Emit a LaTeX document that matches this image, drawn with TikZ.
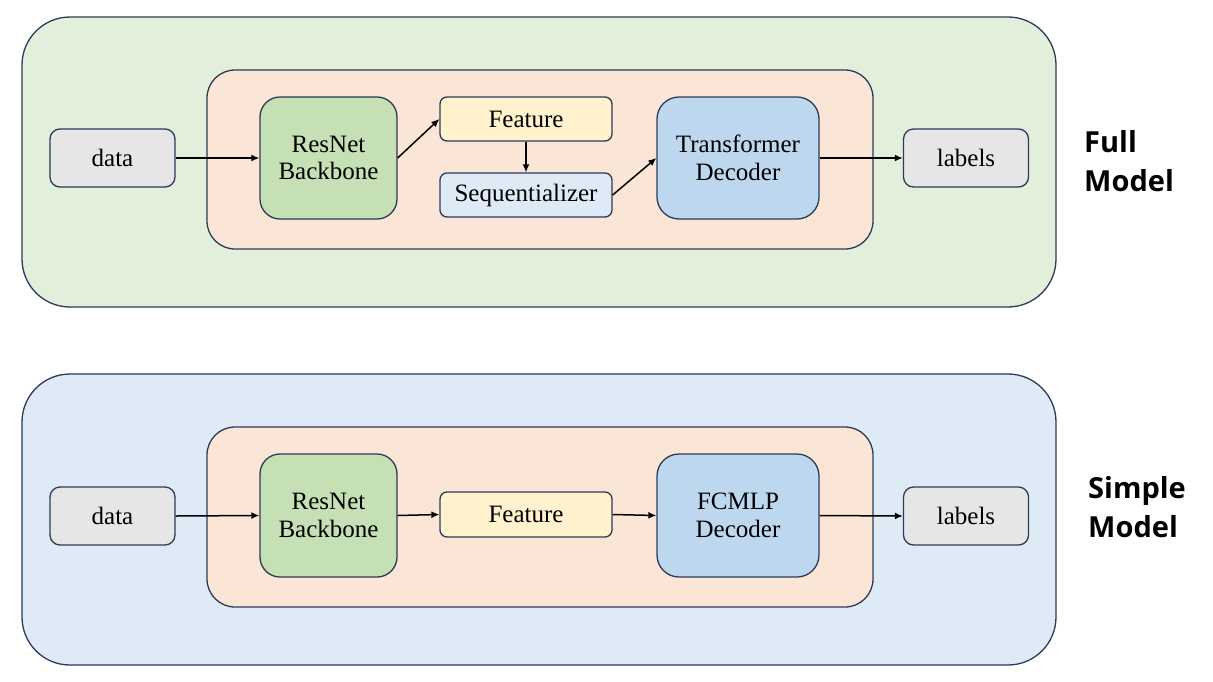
\documentclass[tikz,border=0pt]{standalone}
\usepackage{fontspec}
\setmainfont{Liberation Serif}
\newfontfamily\labelfont{Open Sans}
\usetikzlibrary{arrows.meta}
\definecolor{edgeblue}{HTML}{2B3B58}
\definecolor{outergreen}{HTML}{E2EFDA}
\definecolor{outerblue}{HTML}{DEEBF7}
\definecolor{peach}{HTML}{FBE5D6}
\definecolor{resgreen}{HTML}{C5E0B4}
\definecolor{featyellow}{HTML}{FFF2CC}
\definecolor{seqblue}{HTML}{DEEBF7}
\definecolor{decblue}{HTML}{BDD7EE}
\definecolor{iogray}{HTML}{E6E6E6}
\tikzset{
  boxbase/.style={draw=edgeblue, line width=1.3pt, inner sep=0pt, align=center,
    font=\fontsize{25}{27.5}\selectfont},
  outerbox/.style={boxbase, rounded corners=48pt, minimum width=1034pt},
  innerbox/.style={boxbase, fill=peach, rounded corners=28pt, minimum width=666pt},
  iobox/.style={boxbase, fill=iogray, rounded corners=10pt, minimum width=125pt, minimum height=58pt},
  resbox/.style={boxbase, fill=resgreen, rounded corners=20pt, minimum width=137pt, minimum height=122pt},
  featbox/.style={boxbase, fill=featyellow, rounded corners=7pt, minimum width=172pt, minimum height=44pt},
  seqbox/.style={boxbase, fill=seqblue, rounded corners=7pt, minimum width=172pt, minimum height=44pt},
  decbox/.style={boxbase, fill=decblue, rounded corners=22pt, minimum width=162pt, minimum height=122pt},
  modeltext/.style={inner sep=0pt, align=left, anchor=west,
    font=\labelfont\bfseries\fontsize{29}{38.5}\selectfont},
  conn/.style={draw=black, line width=1.5pt, -{Latex[length=8pt,width=7pt]}},
}
\begin{document}
\begin{tikzpicture}[x=1pt,y=-1pt]
\useasboundingbox (0,0) rectangle (1213,681);
% ---------- Full model ----------
\node[outerbox, fill=outergreen, minimum height=290pt] (fo) at (539,162) {};
\node[innerbox, minimum height=179pt] (fi) at (540,159.5) {};
\node[iobox] (fdata) at (112.5,158) {data};
\node[resbox] (fres) at (328.5,158) {ResNet\\Backbone};
\node[featbox] (ffeat) at (526,119) {Feature};
\node[seqbox] (fseq) at (526,195) {Sequentializer};
\node[decbox] (fdec) at (738,158) {Transformer\\Decoder};
\node[iobox] (flab) at (966,158) {labels};
\node[modeltext] (ftext) at (1084,161) {Full\\Model};
\draw[conn] (fdata.east) -- (fres.west);
\draw[conn] (fres.east) -- (ffeat.west);
\draw[conn] (ffeat.south) -- (fseq.north);
\draw[conn] (fseq.east) -- (fdec.west);
\draw[conn] (fdec.east) -- (flab.west);
% ---------- Simple model ----------
\node[outerbox, fill=outerblue, minimum height=291pt] (so) at (539,519.5) {};
\node[innerbox, minimum height=180pt] (si) at (540,517) {};
\node[iobox] (sdata) at (112.5,516) {data};
\node[resbox, minimum height=123pt] (sres) at (328.5,515.5) {ResNet\\Backbone};
\node[featbox, minimum height=45pt] (sfeat) at (526,514.5) {Feature};
\node[decbox, minimum height=123pt] (sdec) at (738,515.5) {FCMLP\\Decoder};
\node[iobox] (slab) at (966,516) {labels};
\node[modeltext] (stext) at (1088,507) {Simple\\Model};
\draw[conn] (sdata.east) -- (sres.west);
\draw[conn] (sres.east) -- (sfeat.west);
\draw[conn] (sfeat.east) -- (sdec.west);
\draw[conn] (sdec.east) -- (slab.west);
\end{tikzpicture}
\end{document}
